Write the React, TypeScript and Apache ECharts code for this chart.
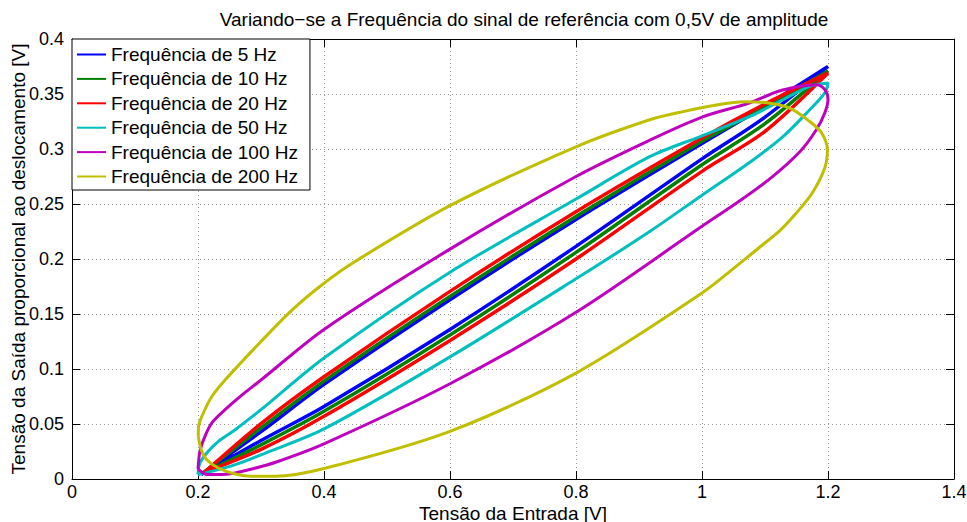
import React, { useEffect, useRef } from "react";
import * as echarts from "echarts";

// Hysteresis loops: output voltage vs. input voltage for each excitation frequency.
// Each loop is listed as [input V, output V] points, rising branch then returning branch.
const loop5Hz: [number, number][] = [
  [0.205, 0.004], [0.3, 0.035], [0.4, 0.066], [0.6, 0.136], [0.8, 0.2115], [1.0, 0.291], [1.1, 0.329], [1.2, 0.375],
  [1.1, 0.339], [1.0, 0.305], [0.8, 0.236], [0.6, 0.163], [0.4, 0.086], [0.3, 0.043], [0.205, 0.004],
];

const loop10Hz: [number, number][] = [
  [0.207, 0.005], [0.3, 0.031], [0.4, 0.0615], [0.6, 0.131], [0.8, 0.206], [1.0, 0.2857], [1.1, 0.323], [1.2, 0.371],
  [1.1, 0.338], [1.0, 0.307], [0.8, 0.2387], [0.6, 0.166], [0.4, 0.089], [0.3, 0.0464], [0.207, 0.005],
];

const loop20Hz: [number, number][] = [
  [0.21, 0.006], [0.3, 0.027], [0.4, 0.057], [0.6, 0.126], [0.8, 0.2], [1.0, 0.2797], [1.1, 0.316], [1.2, 0.369],
  [1.1, 0.341], [1.0, 0.31], [0.8, 0.243], [0.6, 0.1706], [0.4, 0.093], [0.3, 0.0503], [0.21, 0.006],
];

const loop50Hz: [number, number][] = [
  [0.2, 0.004], [0.232, 0.0085], [0.259, 0.013], [0.3, 0.022], [0.4, 0.0455], [0.6, 0.111], [0.8, 0.182],
  [0.917, 0.225], [1.0, 0.258], [1.076, 0.288], [1.129, 0.3115], [1.171, 0.3357], [1.195, 0.351], [1.2, 0.36],
  [1.171, 0.357], [1.129, 0.345], [1.076, 0.3296], [1.0, 0.312], [0.917, 0.293], [0.8, 0.2545], [0.6, 0.188],
  [0.4, 0.11], [0.3, 0.063], [0.259, 0.0448], [0.232, 0.034], [0.216, 0.025], [0.203, 0.0145], [0.2, 0.004],
];

const loop100Hz: [number, number][] = [
  [0.2, 0.009], [0.215, 0.004], [0.232, 0.004], [0.259, 0.0055], [0.285, 0.009], [0.322, 0.015], [0.4, 0.032],
  [0.6, 0.0866], [0.8, 0.1515], [1.0, 0.2297], [1.06, 0.253], [1.11, 0.274], [1.156, 0.298], [1.182, 0.318],
  [1.195, 0.333], [1.2, 0.345], [1.195, 0.354], [1.182, 0.3585], [1.156, 0.357], [1.119, 0.352], [1.076, 0.342],
  [1.0, 0.329], [0.917, 0.308], [0.8, 0.275], [0.6, 0.209], [0.4, 0.136], [0.3, 0.09], [0.269, 0.076],
  [0.243, 0.063], [0.222, 0.051], [0.211, 0.0387], [0.203, 0.025], [0.2, 0.009],
];

const loop200Hz: [number, number][] = [
  [0.2005, 0.039], [0.201, 0.048], [0.2085, 0.06], [0.222, 0.075], [0.243, 0.09], [0.3, 0.125], [0.35, 0.154],
  [0.4, 0.178], [0.45, 0.198], [0.6, 0.2485], [0.8, 0.302], [0.917, 0.3266], [0.97, 0.334], [1.023, 0.34],
  [1.066, 0.343], [1.103, 0.342], [1.14, 0.337], [1.171, 0.325], [1.19, 0.3145], [1.199, 0.299], [1.195, 0.283],
  [1.175, 0.26], [1.15, 0.242], [1.124, 0.226], [1.09, 0.21], [1.06, 0.196], [1.0, 0.169], [0.8, 0.0963],
  [0.6, 0.0433], [0.4, 0.0095], [0.322, 0.0024], [0.285, 0.0024], [0.259, 0.0045], [0.232, 0.01], [0.214, 0.0175],
  [0.205, 0.0266], [0.2005, 0.039],
];

const seriesNames = [
  "Frequência de 5 Hz",
  "Frequência de 10 Hz",
  "Frequência de 20 Hz",
  "Frequência de 50 Hz",
  "Frequência de 100 Hz",
  "Frequência de 200 Hz",
];
const seriesData = [loop5Hz, loop10Hz, loop20Hz, loop50Hz, loop100Hz, loop200Hz];
const seriesColors = ["#0000ff", "#008000", "#ff0000", "#00bfbf", "#bf00bf", "#bfbf00"];

const xTicks = [0, 0.2, 0.4, 0.6, 0.8, 1, 1.2, 1.4];
const yTicks = [0, 0.05, 0.1, 0.15, 0.2, 0.25, 0.3, 0.35, 0.4];

const titleText = "Variando\u2212se a Frequência do sinal de referência com 0,5V de amplitude";
const xAxisTitle = "Tensão da Entrada [V]";
const yAxisTitle = "Tensão da Saída proporcional ao deslocamento [V]";

const FONT = "'Liberation Sans', Arial, Helvetica, sans-serif";
const TEXT_SIZE = 19;
const TICK_SIZE = 18;

const fmt = (v: number) => String(Number(v.toFixed(2)));

export default function App() {
  const ref = useRef<HTMLDivElement>(null);

  useEffect(() => {
    if (!ref.current) return;
    const chart = echarts.init(ref.current, undefined, { renderer: "svg" });

    const xStep = xTicks[1] - xTicks[0];
    const yStep = yTicks[1] - yTicks[0];
    const boxLine = { show: true, onZero: false, lineStyle: { color: "#000", width: 1 } };
    const innerTick = { show: true, inside: true, length: 8, lineStyle: { color: "#000", width: 1 } };
    const dotted = { show: true, lineStyle: { color: "#9a9a9a", width: 1, type: [1, 3] as number[] } };
    const tickLabel = { color: "#000", fontSize: TICK_SIZE, fontFamily: FONT, lineHeight: 17 };
    const nameStyle = { color: "#000", fontSize: TEXT_SIZE, fontFamily: FONT, lineHeight: 16 };

    chart.setOption({
      animation: false,
      backgroundColor: "#ffffff",
      title: {
        text: titleText,
        left: 519,
        top: 5,
        textAlign: "center",
        textStyle: { fontSize: TEXT_SIZE, fontWeight: "normal", fontFamily: FONT, color: "#000" },
      },
      grid: { left: 72, right: 13, top: 39, bottom: 43, outerBoundsMode: "none", containLabel: false },
      legend: {
        data: seriesNames,
        orient: "vertical",
        left: 72,
        top: 39,
        backgroundColor: "#ffffff",
        borderColor: "#000",
        borderWidth: 1,
        borderRadius: 0,
        padding: [6, 12, 4, 5],
        itemGap: 5.4,
        itemWidth: 29,
        itemHeight: 2,
        itemTextGap: 4,
        icon: "rect",
        textStyle: { fontSize: TEXT_SIZE, fontFamily: FONT, color: "#000", lineHeight: 18 },
      },
      xAxis: [
        {
          type: "value",
          position: "bottom",
          min: xTicks[0],
          max: xTicks[xTicks.length - 1],
          interval: xStep,
          axisLine: boxLine,
          axisTick: innerTick,
          axisLabel: { ...tickLabel, margin: 4, showMinLabel: true, showMaxLabel: true, formatter: fmt },
          splitLine: dotted,
          name: xAxisTitle,
          nameLocation: "middle",
          nameGap: 26,
          nameMoveOverlap: false,
          nameTextStyle: nameStyle,
        },
        {
          type: "value",
          position: "top",
          min: xTicks[0],
          max: xTicks[xTicks.length - 1],
          interval: xStep,
          axisLine: boxLine,
          axisTick: innerTick,
          axisLabel: { show: false },
          splitLine: { show: false },
        },
      ],
      yAxis: [
        {
          type: "value",
          position: "left",
          min: yTicks[0],
          max: yTicks[yTicks.length - 1],
          interval: yStep,
          axisLine: boxLine,
          axisTick: innerTick,
          axisLabel: { ...tickLabel, margin: 8, showMinLabel: true, showMaxLabel: true, formatter: fmt },
          splitLine: dotted,
          name: yAxisTitle,
          nameLocation: "middle",
          nameRotate: 90,
          nameGap: 46,
          nameMoveOverlap: false,
          nameTextStyle: nameStyle,
        },
        {
          type: "value",
          position: "right",
          min: yTicks[0],
          max: yTicks[yTicks.length - 1],
          interval: yStep,
          axisLine: boxLine,
          axisTick: innerTick,
          axisLabel: { show: false },
          splitLine: { show: false },
        },
      ],
      series: seriesData.map((data, i) => ({
        name: seriesNames[i],
        type: "line",
        xAxisIndex: 0,
        yAxisIndex: 0,
        data,
        symbol: "none",
        smooth: 0.3,
        color: seriesColors[i],
        lineStyle: { color: seriesColors[i], width: i < 3 ? 3.5 : 3 },
        z: 2 + i,
      })),
    });

    return () => chart.dispose();
  }, []);

  return (
    <div
      ref={ref}
      style={{ position: "absolute", left: 0, top: 0, width: 967, height: 522 }}
    />
  );
}
